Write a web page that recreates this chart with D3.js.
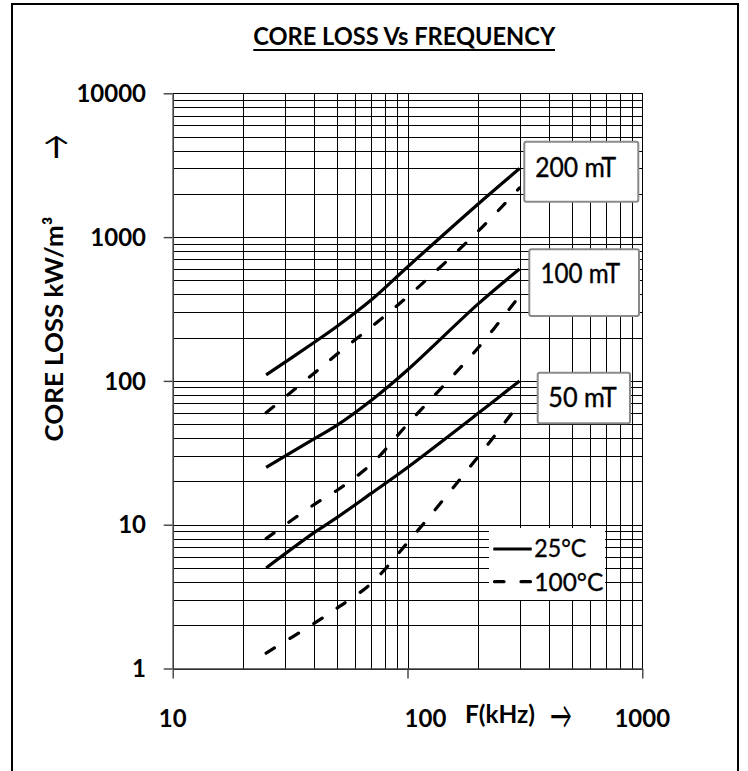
<!DOCTYPE html>
<html>
<head>
<meta charset="utf-8">
<script src="https://cdn.jsdelivr.net/npm/d3@7/dist/d3.min.js"></script>
<style>
  html, body { margin: 0; padding: 0; background: #fff; }
  svg { display: block; }
  text { font-family: Lato, "Open Sans", sans-serif; fill: #000; }
</style>
</head>
<body>
<svg id="chart" width="748" height="771"></svg>
<script>
// ---- data ----
const freqs        = [25, 40, 50, 70, 100, 200, 300];           // kHz
const loss200_25   = [110, 185, 239, 365, 620, 1700, 3000];     // kW/m3
const loss200_100  = [60, 113, 153, 237, 385, 1100, 2200];
const loss100_25   = [25, 39.5, 49, 73, 119, 343, 600];
const loss100_100  = [8, 13.8, 17.3, 26.3, 50, 170, 390];
const loss50_25    = [5, 8.8, 11.2, 16.5, 25, 59.5, 100];
const loss50_100   = [1.28, 2.06, 2.62, 3.9, 7.5, 29.7, 70];

const xTickValues  = [10, 100, 1000];
const xTickLabels  = ["10", "100", "1000"];
const yTickValues  = [1, 10, 100, 1000, 10000];
const yTickLabels  = ["1", "10", "100", "1000", "10000"];
const fluxLabels   = ["200 mT", "100 mT", "50 mT"];
const tempLabels   = ["25°C", "100°C"];

const series = [
  { values: loss200_25,  temp: 0 },
  { values: loss200_100, temp: 1 },
  { values: loss100_25,  temp: 0 },
  { values: loss100_100, temp: 1 },
  { values: loss50_25,   temp: 0 },
  { values: loss50_100,  temp: 1 }
];

// ---- layout ----
const svg = d3.select("#chart");
const X0 = 172.7, X1 = 642.3, Y0 = 668.5, Y1 = 93.3;
const x = d3.scaleLog().domain([10, 1000]).range([X0, X1]);
const y = d3.scaleLog().domain([1, 10000]).range([Y0, Y1]);

// outer frame
svg.append("rect").attr("x", 12).attr("y", 4).attr("width", 726).attr("height", 800)
  .attr("fill", "#fff").attr("stroke", "#000").attr("stroke-width", 2);

// grid values
function logGrid(lo, hi) {
  const out = [];
  for (let d = lo; d < hi; d *= 10) for (let k = 1; k <= 9; k++) out.push(d * k);
  out.push(hi);
  return out;
}
const xGrid = logGrid(10, 1000);
const yGrid = logGrid(1, 10000);

const grid = svg.append("g").attr("shape-rendering", "crispEdges");
grid.selectAll("line.v").data(xGrid).join("line")
  .attr("x1", d => Math.round(x(d)) + 0.5).attr("x2", d => Math.round(x(d)) + 0.5)
  .attr("y1", Y1).attr("y2", Y0)
  .attr("stroke", "#000").attr("stroke-width", 1);
grid.selectAll("line.h").data(yGrid).join("line")
  .attr("y1", d => Math.round(y(d)) + 0.5).attr("y2", d => Math.round(y(d)) + 0.5)
  .attr("x1", X0).attr("x2", X1)
  .attr("stroke", "#000").attr("stroke-width", 1);

// axes (lines + major ticks) with d3 axes
const yAxis = d3.axisLeft(y).tickValues(yTickValues).tickFormat(() => "").tickSizeInner(9).tickSizeOuter(0);
const xAxis = d3.axisBottom(x).tickValues(xTickValues).tickFormat(() => "").tickSizeInner(10).tickSizeOuter(0);
const gy = svg.append("g").attr("transform", `translate(${X0},0)`).call(yAxis);
const gx = svg.append("g").attr("transform", `translate(0,${Y0})`).call(xAxis);
[gy, gx].forEach(g => {
  g.select(".domain").attr("stroke", "#404040").attr("stroke-width", 1.6);
  g.selectAll(".tick line").attr("stroke", "#404040").attr("stroke-width", 1.4);
});

// tick labels
svg.append("g").selectAll("text").data(yTickValues).join("text")
  .attr("x", 146).attr("y", d => y(d)).attr("dy", "0.36em")
  .attr("text-anchor", "end").attr("font-weight", "bold").attr("font-size", 24)
  .text((d, i) => yTickLabels[i]);
svg.append("g").selectAll("text").data(xTickValues).join("text")
  .attr("x", d => x(d)).attr("dx", d => d === 100 ? 18 : 0).attr("y", 726.7)
  .attr("text-anchor", "middle").attr("font-weight", "bold").attr("font-size", 24)
  .text((d, i) => xTickLabels[i]);

// curves
const line = d3.line().x(d => x(d[0])).y(d => y(d[1])).curve(d3.curveCatmullRom.alpha(0.5));
const DASH = "10,18";
svg.append("g").selectAll("path").data(series).join("path")
  .attr("d", s => line(freqs.map((f, i) => [f, s.values[i]])))
  .attr("fill", "none").attr("stroke", "#000").attr("stroke-width", 3.2)
  .attr("stroke-linecap", s => s.temp ? "round" : "butt")
  .attr("stroke-dasharray", s => s.temp ? DASH : null);

// legend
svg.append("rect").attr("x", 489).attr("y", 528).attr("width", 116).attr("height", 72).attr("fill", "#fff");
const leg = svg.append("g");
leg.append("line").attr("x1", 493.3).attr("x2", 531.7).attr("y1", 549).attr("y2", 549)
  .attr("stroke", "#000").attr("stroke-width", 3.2);
leg.append("line").attr("x1", 494.5).attr("x2", 531).attr("y1", 581.7).attr("y2", 581.7)
  .attr("stroke", "#000").attr("stroke-width", 3.2).attr("stroke-linecap", "round")
  .attr("stroke-dasharray", "9.5,17");
leg.append("text").attr("x", 534.3).attr("y", 557.3).attr("font-size", 25)
  .attr("stroke", "#000").attr("stroke-width", 0.35)
  .attr("textLength", 52).attr("lengthAdjust", "spacingAndGlyphs").text(tempLabels[0]);
leg.append("text").attr("x", 534.3).attr("y", 590.7).attr("font-size", 25)
  .attr("stroke", "#000").attr("stroke-width", 0.35)
  .attr("textLength", 69).attr("lengthAdjust", "spacingAndGlyphs").text(tempLabels[1]);

// flux density label boxes
const boxes = [
  { bx: 524.3, by: 141.7, bw: 114,   bh: 60,   tx: 575.7, ty: 176.7, tw: 81 },
  { bx: 529.3, by: 249.3, bw: 109.7, bh: 66.7, tx: 580.3, ty: 282.7, tw: 79.5 },
  { bx: 537.7, by: 372.7, bw: 92.3,  bh: 50.6, tx: 582.5, ty: 406.7, tw: 68.4 }
];
const lb = svg.append("g").selectAll("g").data(boxes).join("g");
lb.append("rect").attr("x", d => d.bx).attr("y", d => d.by).attr("width", d => d.bw).attr("height", d => d.bh)
  .attr("rx", 2).attr("fill", "#fff").attr("stroke", "#8a8a8a").attr("stroke-width", 2);
lb.append("text").attr("x", d => d.tx).attr("y", d => d.ty).attr("text-anchor", "middle")
  .attr("font-size", 27).attr("stroke", "#000").attr("stroke-width", 0.4)
  .attr("textLength", d => d.tw).attr("lengthAdjust", "spacingAndGlyphs")
  .text((d, i) => fluxLabels[i]);

// title
svg.append("text").attr("x", 404.2).attr("y", 45).attr("text-anchor", "middle")
  .attr("font-weight", "bold").attr("font-size", 25)
  .attr("textLength", 302).attr("lengthAdjust", "spacingAndGlyphs")
  .text("CORE LOSS Vs FREQUENCY");
svg.append("line").attr("x1", 253.3).attr("x2", 555).attr("y1", 50).attr("y2", 50)
  .attr("stroke", "#000").attr("stroke-width", 1.8);

// y-axis title
svg.append("text").attr("transform", "translate(63.3,329) rotate(-90)")
  .attr("text-anchor", "middle").attr("font-weight", "bold").attr("font-size", 25)
  .attr("textLength", 225).attr("lengthAdjust", "spacingAndGlyphs")
  .text("CORE LOSS kW/m³");
svg.append("text").attr("transform", "translate(54,147) rotate(-90)")
  .attr("text-anchor", "middle").attr("dominant-baseline", "central")
  .attr("font-family", "DejaVu Sans").attr("font-size", 40)
  .attr("textLength", 25).attr("lengthAdjust", "spacingAndGlyphs")
  .text("→");

// x-axis title
svg.append("text").attr("x", 465).attr("y", 723).attr("font-weight", "bold").attr("font-size", 24)
  .attr("textLength", 70).attr("lengthAdjust", "spacingAndGlyphs").text("F(kHz)");
svg.append("text").attr("x", 550).attr("y", 714).attr("dominant-baseline", "central")
  .attr("font-family", "DejaVu Sans").attr("font-size", 38)
  .attr("textLength", 22).attr("lengthAdjust", "spacingAndGlyphs").text("→");
</script>
</body>
</html>
